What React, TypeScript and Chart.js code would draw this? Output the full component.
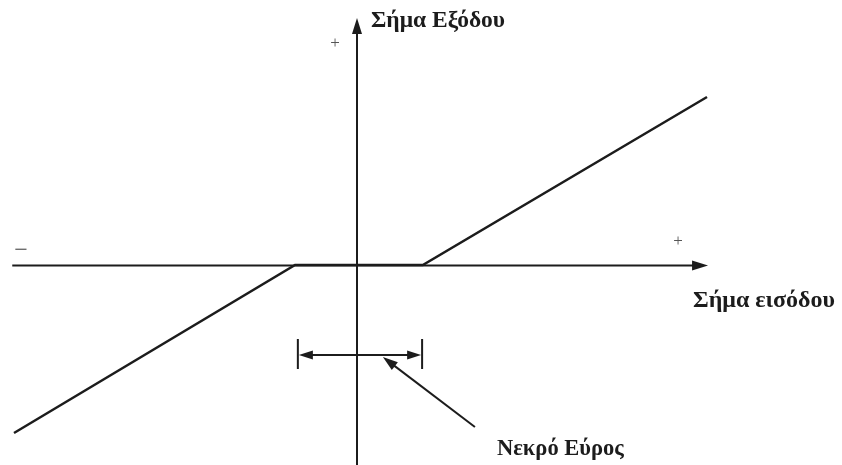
import React, { useEffect, useRef } from "react";
import { Chart, registerables } from "chart.js";

Chart.register(...registerables);

// Dead-zone characteristic (input -> output)
const inputValues = [-9.8, -1.77, 1.88, 10.0];
const outputValues = [-4.8, 0, 0, 4.8];
const deadBand = [-1.69, 1.86];

const yAxisTitle = "Σήμα Εξόδου";
const xAxisTitle = "Σήμα εισόδου";
const deadBandLabel = "Νεκρό Εύρος";
const plusSign = "+";
const minusSign = "−";

const X_MIN = -10.2;
const X_MAX = 13.857;
const Y_MIN = -5.714;
const Y_MAX = 7.571;

const INK = "#1c1c1c";

function arrowHead(ctx: CanvasRenderingContext2D, x: number, y: number, angle: number, len = 14, half = 5) {
  ctx.save();
  ctx.translate(x, y);
  ctx.rotate(angle);
  ctx.beginPath();
  ctx.moveTo(0, 0);
  ctx.lineTo(-len, -half);
  ctx.lineTo(-len, half);
  ctx.closePath();
  ctx.fillStyle = INK;
  ctx.fill();
  ctx.restore();
}

const diagramPlugin = {
  id: "diagram",
  afterDatasetsDraw(chart: any) {
    const ctx: CanvasRenderingContext2D = chart.ctx;
    const xs = chart.scales.x;
    const ys = chart.scales.y;
    const px = (v: number) => xs.getPixelForValue(v);
    const py = (v: number) => ys.getPixelForValue(v);
    ctx.save();
    ctx.strokeStyle = INK;
    ctx.lineCap = "butt";

    // axes
    const ox = px(0);
    const oy = py(0) + 0.5;
    const xEnd = px(10.03);
    const yTop = py(7.06);
    ctx.lineWidth = 2;
    ctx.beginPath();
    ctx.moveTo(px(-9.85), oy);
    ctx.lineTo(xEnd - 8, oy);
    ctx.moveTo(ox, py(Y_MIN));
    ctx.lineTo(ox, yTop + 8);
    ctx.stroke();
    arrowHead(ctx, xEnd, oy, 0, 16, 5);
    arrowHead(ctx, ox, yTop, -Math.PI / 2, 16, 5);

    // dead band bracket
    const by = py(-2.57);
    const bl = px(deadBand[0]);
    const br = px(deadBand[1]);
    ctx.lineWidth = 2;
    ctx.beginPath();
    ctx.moveTo(bl, by - 16);
    ctx.lineTo(bl, by + 14);
    ctx.moveTo(br, by - 16);
    ctx.lineTo(br, by + 14);
    ctx.moveTo(bl + 8, by);
    ctx.lineTo(br - 8, by);
    ctx.stroke();
    arrowHead(ctx, bl + 1, by, Math.PI, 14, 4.5);
    arrowHead(ctx, br - 1, by, 0, 14, 4.5);

    // pointer
    const p0x = px(3.37), p0y = py(-4.63);
    const p1x = px(0.74), p1y = py(-2.63);
    const ang = Math.atan2(p1y - p0y, p1x - p0x);
    ctx.beginPath();
    ctx.moveTo(p0x, p0y);
    ctx.lineTo(p1x - 10 * Math.cos(ang), p1y - 10 * Math.sin(ang));
    ctx.stroke();
    arrowHead(ctx, p1x, p1y, ang, 15, 5);

    // texts
    ctx.fillStyle = INK;
    ctx.textBaseline = "alphabetic";
    ctx.textAlign = "left";
    ctx.font = "bold 23.5px 'Liberation Serif', serif";
    ctx.fillText(yAxisTitle, ox + 14, 27);
    ctx.font = "bold 24px 'Liberation Serif', serif";
    ctx.fillText(xAxisTitle, 693, 307);
    ctx.font = "bold 22.5px 'Liberation Serif', serif";
    ctx.fillText(deadBandLabel, 497, 455);

    ctx.font = "17px 'Liberation Serif', serif";
    ctx.textAlign = "center";
    ctx.textBaseline = "middle";
    ctx.fillStyle = "#555";
    ctx.fillText(plusSign, 335, 44);
    ctx.fillText(plusSign, 678, 242);
    ctx.font = "24px 'Liberation Serif', serif";
    ctx.fillText(minusSign, 21, 251);
    ctx.restore();
  },
};

export default function App() {
  const ref = useRef<HTMLCanvasElement | null>(null);
  useEffect(() => {
    if (!ref.current) return;
    const points = inputValues.map((x, i) => ({ x, y: outputValues[i] }));
    const chart = new Chart(ref.current, {
      type: "scatter",
      data: {
        datasets: [
          {
            data: points,
            showLine: true,
            borderColor: INK,
            borderWidth: 2.5,
            pointRadius: 0,
            tension: 0,
          },
        ],
      },
      options: {
        animation: false,
        responsive: false,
        maintainAspectRatio: false,
        layout: { padding: 0 },
        plugins: { legend: { display: false }, tooltip: { enabled: false } },
        scales: {
          x: { type: "linear", min: X_MIN, max: X_MAX, display: false },
          y: { type: "linear", min: Y_MIN, max: Y_MAX, display: false },
        },
      },
      plugins: [diagramPlugin],
    });
    return () => chart.destroy();
  }, []);
  return (
    <div style={{ position: "fixed", left: 0, top: 0, width: 842, height: 465, background: "#fff" }}>
      <canvas ref={ref} width={842} height={465} style={{ width: 842, height: 465 }} />
    </div>
  );
}
